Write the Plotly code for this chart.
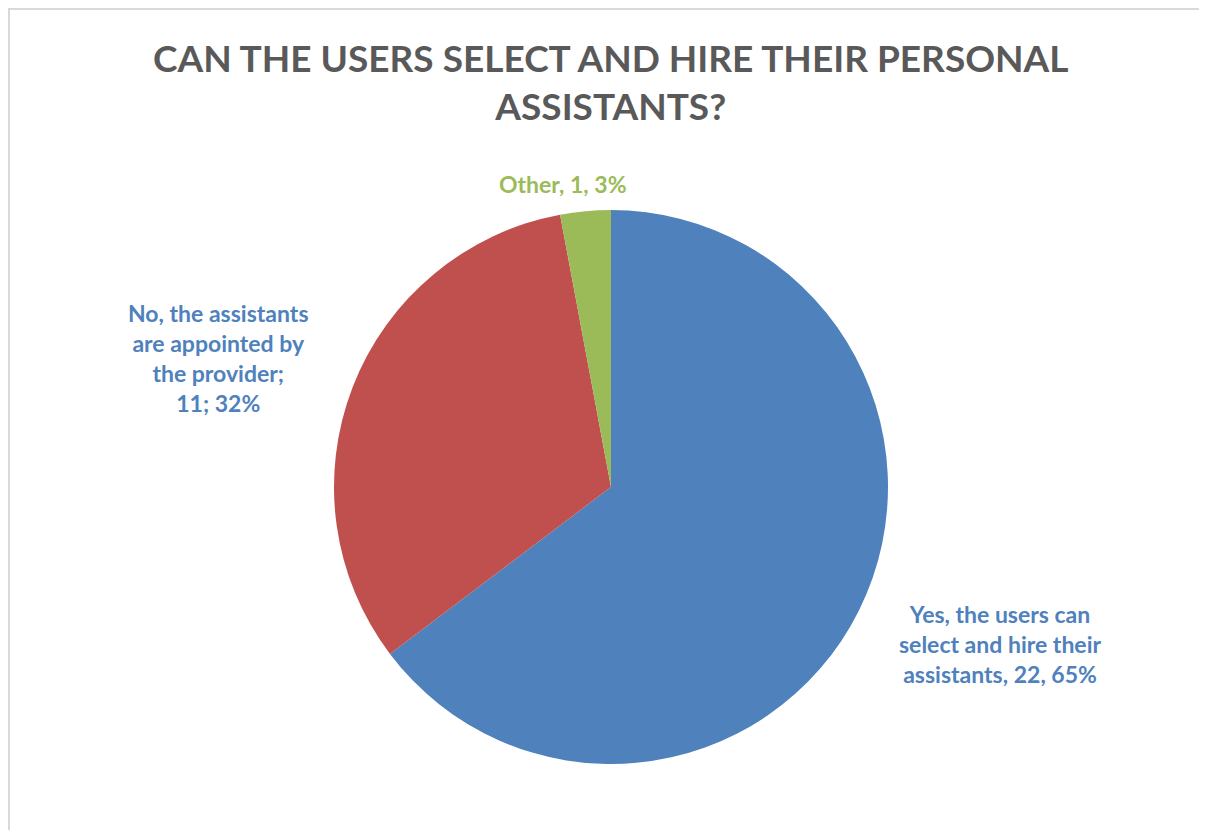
import plotly.graph_objects as go

categories = ["Yes, the users can select and hire their assistants",
              "No, the assistants are appointed by the provider",
              "Other"]
values = [22, 11, 1]
colors = ["#4F81BD", "#C0504D", "#9BBB59"]
label_texts = ["Yes, the users can<br>select and hire their<br>assistants, 22, 65%",
               "No, the assistants<br>are appointed by<br>the provider;<br>11; 32%",
               "Other, 1, 3%"]
label_colors = ["#4F81BD", "#4F81BD", "#9BBB59"]
title_text = "CAN THE USERS SELECT AND HIRE THEIR PERSONAL<br>ASSISTANTS?"

W, H = 1207, 830
OFF = 8  # page body offset
FONT = "Lato"


def px(x):
    return (x - OFF) / W


def py(y):
    return 1 - (y - OFF) / H


fig = go.Figure()
fig.add_trace(go.Pie(
    labels=categories, values=values, sort=False, direction="clockwise",
    rotation=0, marker=dict(colors=colors, line=dict(width=0)),
    textinfo="none", hoverinfo="label+value+percent", showlegend=False,
    domain=dict(x=[px(334), px(888)], y=[py(764), py(210)]),
))

label_pos = [(1000, 644), (218, 358), (563, 184)]
for txt, col, (lx, ly) in zip(label_texts, label_colors, label_pos):
    fig.add_annotation(text=f"<b>{txt}</b>", x=px(lx), y=py(ly),
                       xref="paper", yref="paper", showarrow=False,
                       font=dict(family=FONT, size=23, color=col),
                       align="center", xanchor="center", yanchor="middle")

fig.add_annotation(text=f"<b>{title_text}</b>", x=px(611), y=py(82),
                   xref="paper", yref="paper", showarrow=False,
                   font=dict(family=FONT, size=37, color="#595959"),
                   align="center", xanchor="center", yanchor="middle")

# chart frame
fig.add_shape(type="line", xref="paper", yref="paper", x0=0, x1=1, y0=py(9), y1=py(9),
              line=dict(color="#D9D9D9", width=2))
fig.add_shape(type="line", xref="paper", yref="paper", x0=px(9), x1=px(9), y0=0, y1=py(9),
              line=dict(color="#D9D9D9", width=2))

fig.update_layout(width=W, height=H, margin=dict(l=0, r=0, t=0, b=0),
                  paper_bgcolor="white", plot_bgcolor="white")
fig.write_html("out.html")
